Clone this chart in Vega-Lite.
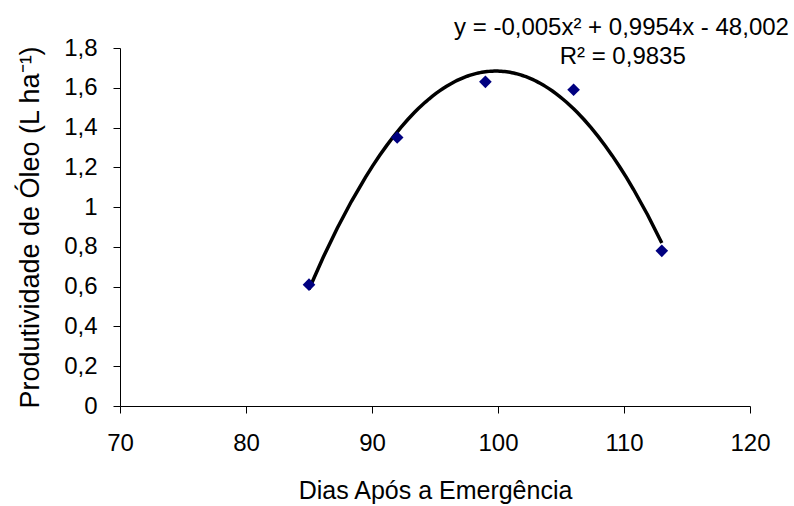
{
  "$schema": "https://vega.github.io/schema/vega-lite/v6.json",
  "width": 630,
  "height": 358,
  "autosize": {"type": "none"},
  "padding": {"left": 120, "top": 48, "right": 44, "bottom": 100},
  "background": "white",
  "datasets": {
    "obs": [
      {"dias": 85, "oleo": 0.61},
      {"dias": 92, "oleo": 1.35},
      {"dias": 99, "oleo": 1.63},
      {"dias": 106, "oleo": 1.59},
      {"dias": 113, "oleo": 0.78}
    ],
    "notes": [
      {"dias": 109.8, "oleo": 1.9, "label": "y = -0,005x² + 0,9954x - 48,002"},
      {"dias": 109.9, "oleo": 1.755, "label": "R² = 0,9835"}
    ]
  },
  "config": {
    "view": {"stroke": null},
    "font": "Liberation Sans",
    "axis": {
      "grid": false,
      "domainColor": "black",
      "tickColor": "black",
      "tickSize": 7,
      "labelColor": "black",
      "titleColor": "black",
      "labelFont": "Liberation Sans",
      "titleFont": "Liberation Sans",
      "labelFontSize": 24,
      "titleFontSize": 25,
      "titleFontWeight": "normal",
      "labelOverlap": false,
      "labelFlush": false
    }
  },
  "layer": [
    {
      "data": {"name": "obs"},
      "transform": [
        {"regression": "oleo", "on": "dias", "method": "poly", "order": 2, "extent": [85, 113]}
      ],
      "mark": {"type": "line", "color": "black", "strokeWidth": 3.5},
      "encoding": {
        "x": {
          "field": "dias", "type": "quantitative",
          "scale": {"domain": [70, 120], "nice": false},
          "axis": {"values": [70, 80, 90, 100, 110, 120], "tickCount": 12, "title": "Dias Após a Emergência", "labelPadding": 18, "titlePadding": 23, "labelOverlap": false}
        },
        "y": {
          "field": "oleo", "type": "quantitative",
          "scale": {"domain": [0, 1.8], "nice": false},
          "axis": {
            "values": [0, 0.2, 0.4, 0.6, 0.8, 1, 1.2, 1.4, 1.6, 1.8],
            "tickCount": 20,
            "labelExpr": "replace(format(datum.value, '.1~f'), '.', ',')",
            "title": "Produtividade de Óleo (L ha⁻¹)",
            "titleFontSize": 27,
            "labelPadding": 16,
            "titlePadding": 19,
            "labelOverlap": false,
            "labelBound": false
          }
        }
      }
    },
    {
      "data": {"name": "obs"},
      "mark": {"type": "point", "shape": "diamond", "filled": true, "color": "#000080", "size": 160, "opacity": 1},
      "encoding": {
        "x": {"field": "dias", "type": "quantitative"},
        "y": {"field": "oleo", "type": "quantitative"}
      }
    },
    {
      "data": {"name": "notes"},
      "mark": {"type": "text", "font": "Liberation Sans", "fontSize": 24, "color": "black", "align": "center", "baseline": "middle"},
      "encoding": {
        "x": {"field": "dias", "type": "quantitative"},
        "y": {"field": "oleo", "type": "quantitative"},
        "text": {"field": "label"}
      }
    }
  ]
}
